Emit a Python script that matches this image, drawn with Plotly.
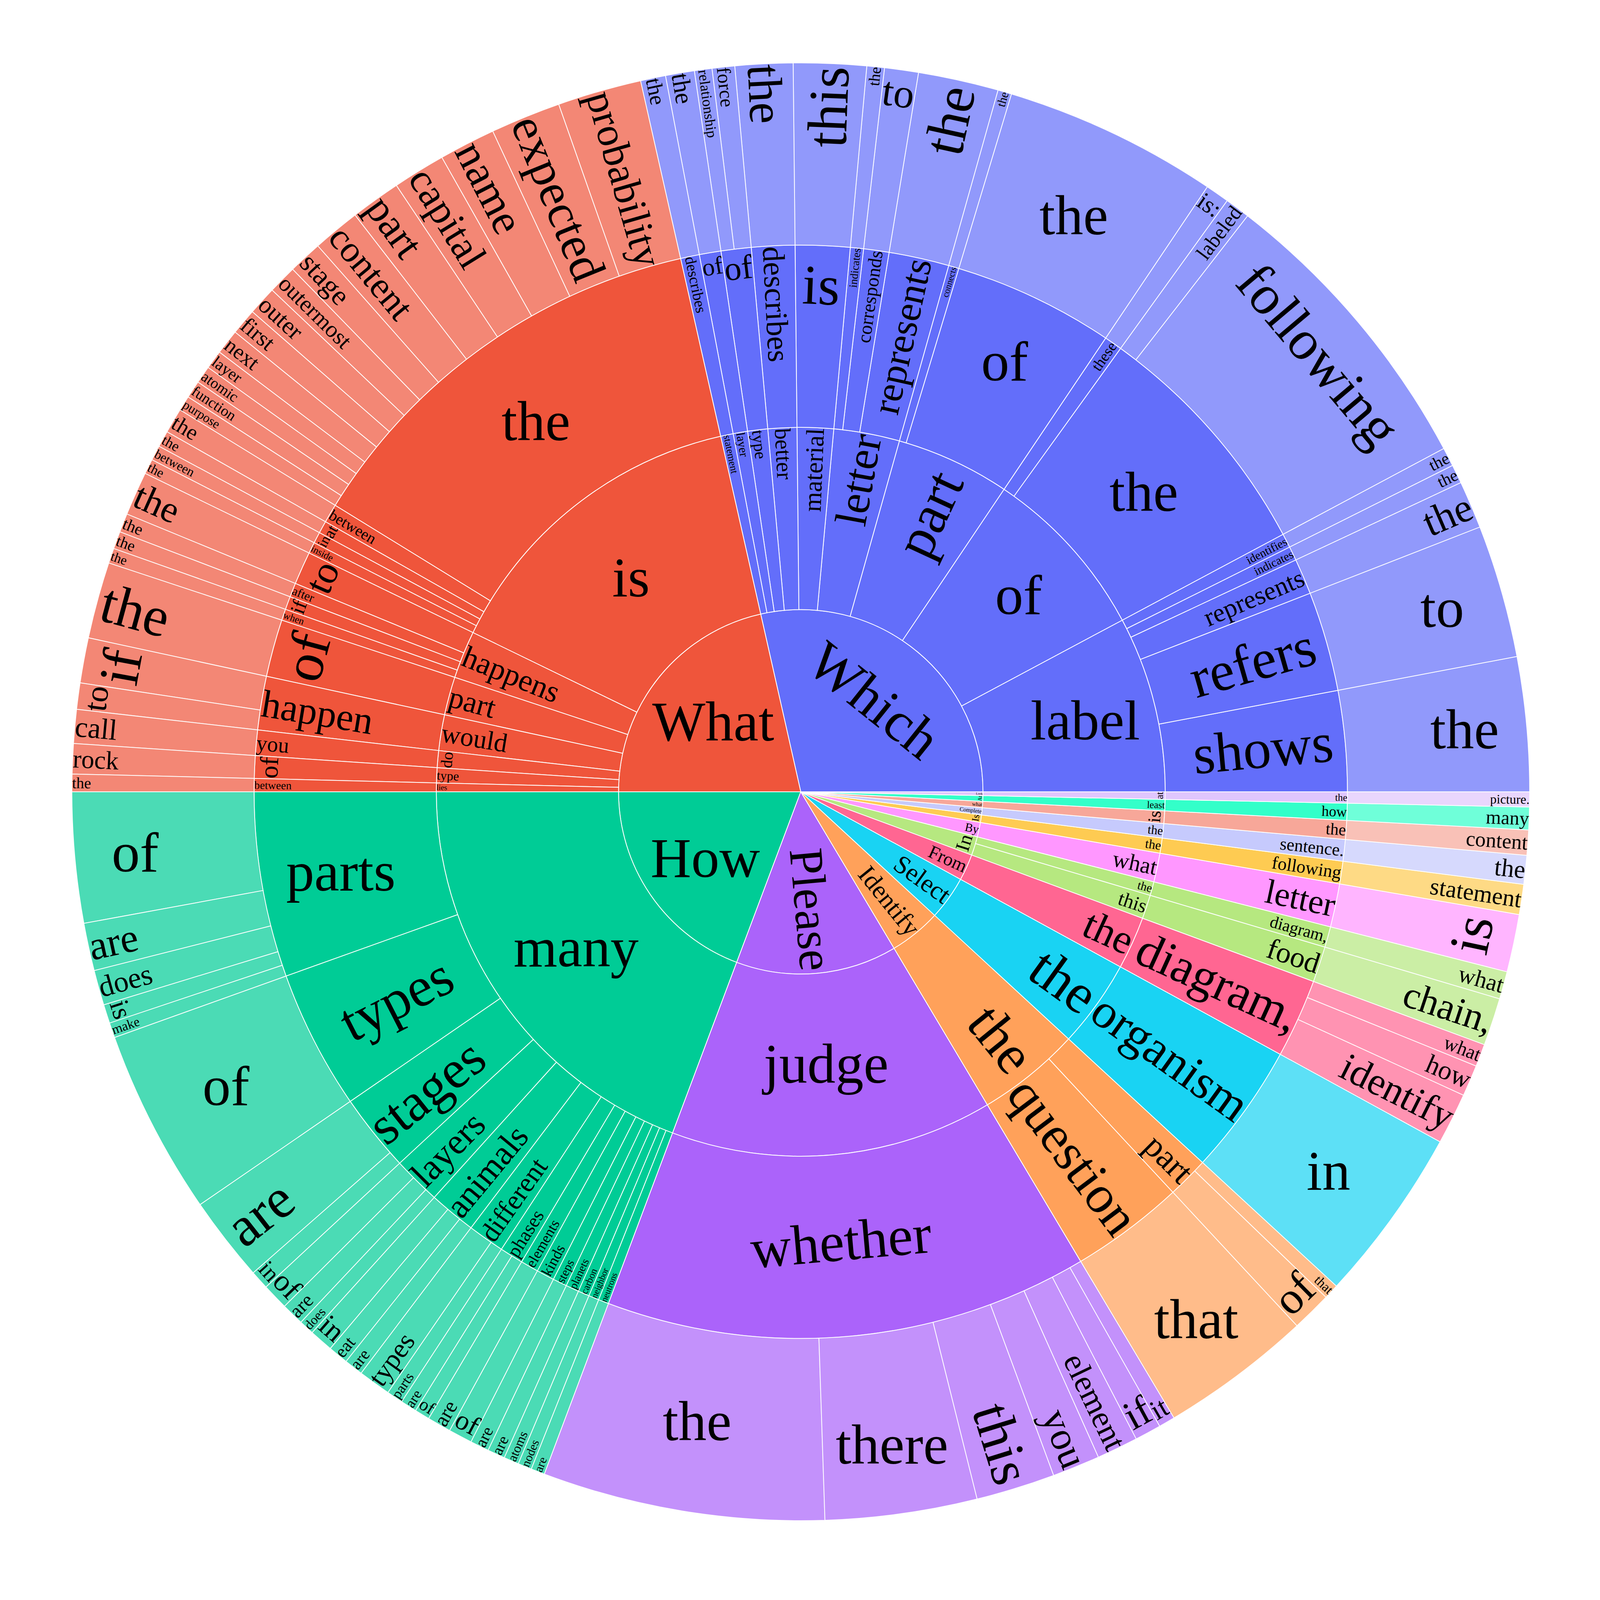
import plotly.graph_objects as go

# question openings (first four words) and how often each one occurs
which_phrases = [
    "Which label shows the", "Which label refers to", "Which label represents the",
    "Which label indicates the", "Which label identifies the",
    "Which of the following", "Which of the labeled", "Which of these is:",
    "Which part of the", "Which part connects the",
    "Which letter represents the", "Which letter corresponds to", "Which letter indicates the",
    "Which material is this", "Which better describes the",
    "Which type of force", "Which type of relationship",
    "Which layer of the", "Which statement describes the",
]
which_counts = [107, 106, 38, 15, 15, 241, 20, 19, 171, 11, 64, 27, 14, 58, 46, 18, 14, 23, 20]

what_phrases = [
    "What is the probability", "What is the expected", "What is the name", "What is the capital",
    "What is the part", "What is the content", "What is the stage", "What is the outermost",
    "What is the outer", "What is the first", "What is the next", "What is the layer",
    "What is the atomic", "What is the function", "What is the purpose",
    "What is between the", "What is at the", "What is in between", "What is inside the",
    "What happens to the", "What happens after the", "What happens if the", "What happens when the",
    "What part of the",
    "What would happen if", "What would happen to",
    "What do you call", "What type of rock", "What lies between the",
]
what_counts = [67, 56, 45, 42, 40, 38, 27, 23, 23, 21, 20, 15, 14, 14, 12,
               20, 13, 12, 12, 35, 15, 14, 12, 61, 36, 21, 27, 24, 14]

how_phrases = [
    "How many parts of", "How many parts are", "How many parts does", "How many parts is",
    "How many parts make",
    "How many types of",
    "How many stages are", "How many stages in",
    "How many layers of", "How many layers are", "How many layers does",
    "How many animals in", "How many animals eat", "How many animals are",
    "How many different types", "How many different parts",
    "How many phases are", "How many phases of",
    "How many elements are", "How many kinds of", "How many steps are", "How many planets are",
    "How many carbon atoms", "How many neighbor nodes", "How many neutrons are",
]
how_counts = [104, 38, 28, 15, 12, 148, 68, 15, 21, 18, 12, 19, 16, 15, 26, 13,
              13, 12, 19, 19, 15, 14, 12, 11, 11]

please_phrases = [
    "Please judge whether the", "Please judge whether there", "Please judge whether this",
    "Please judge whether you", "Please judge whether element", "Please judge whether if",
    "Please judge whether it",
]
please_counts = [225, 121, 63, 38, 33, 21, 13]

other_phrases = [
    "Identify the question that", "Identify the part of", "Identify the part that",
    "Select the organism in",
    "From the diagram, identify", "From the diagram, how", "From the diagram, what",
    "In this food chain,", "In the diagram, what",
    "By what letter is",
    "Is the following statement",
    "Complete the sentence. the",
    "what is the content",
    "At least how many",
    "Look at the picture.",
]
other_counts = [121, 32, 12, 140, 41, 25, 18, 38, 22, 46, 24, 23, 20, 18, 12]

phrases = which_phrases + what_phrases + how_phrases + please_phrases + other_phrases
counts = which_counts + what_counts + how_counts + please_counts + other_counts


def build_tree(phrases, counts):
    ids, labels, parents, values = [], [], [], []
    seen = set()
    for phrase, count in zip(phrases, counts):
        words = phrase.split(" ")
        for depth in range(len(words)):
            node = "/".join(words[:depth + 1])
            if node in seen:
                continue
            seen.add(node)
            ids.append(node)
            labels.append(words[depth])
            parents.append("/".join(words[:depth]))
            values.append(count if depth == len(words) - 1 else 0)
    return ids, labels, parents, values


ids, labels, parents, values = build_tree(phrases, counts)

fig = go.Figure(go.Sunburst(
    ids=ids,
    labels=labels,
    parents=parents,
    values=values,
    branchvalues="remainder",
    sort=True,
    insidetextorientation="auto",
    textfont=dict(family="Liberation Serif, Times New Roman, serif", size=144, color="black"),
    marker=dict(line=dict(color="white", width=2)),
    hoverinfo="label+value",
))

fig.update_layout(
    width=4084,
    height=4084,
    margin=dict(t=153, l=176, r=176, b=199),
    paper_bgcolor="white",
    showlegend=False,
)

fig.write_html("out.html")
